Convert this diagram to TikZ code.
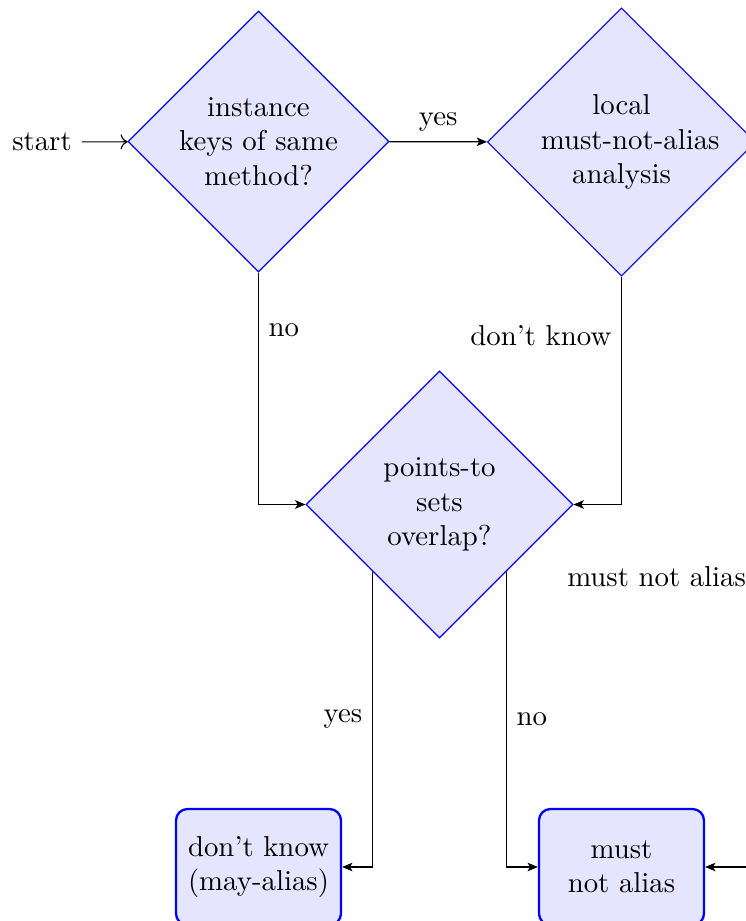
\documentclass[tikz,border=0pt]{standalone}
\usetikzlibrary{shapes.geometric,arrows.meta}
\begin{document}
\begin{tikzpicture}[x=0.3472pt,y=-0.3472pt,
  decision/.style={diamond, draw=blue, fill=blue!10, text width=56pt,
    align=center, inner sep=0pt, minimum width=#1, minimum height=#1},
  outcome/.style={rectangle, rounded corners=4pt, draw=blue, thick,
    fill=blue!10, align=center, minimum width=57.3pt, minimum height=40.3pt},
  flow/.style={-{Stealth[length=3.6pt,width=3pt,inset=0.9pt]}}]
  \useasboundingbox (0,0) rectangle (746,921);
  \clip (0,0) rectangle (746,921);

  % decisions
  \node[decision=90.6pt] (d1) at (258.5,141.5) {instance\\keys of same\\method?};
  \node[decision=93.1pt] (d2) at (621.5,142) {local\\\mbox{must-not-alias}\\analysis};
  \node[decision=92.7pt] (d3) at (439.5,504.5) {points-to\\sets\\overlap?};

  % outcomes
  \node[outcome] (b1) at (258.5,867) {don't know\\(may-alias)};
  \node[outcome] (b2) at (621.5,867) {must\\not alias};

  \node (start) at (42,142) {start};

  % connectors
  \draw[->] (start) -- (d1);
  \draw[flow] (d1) -- node[above] {yes} (d2);
  \draw[flow] (d1.south) |- node[pos=0.125, right] {no} (d3.west);
  \draw[flow] (d2.south) |- node[pos=0.13, left] {don't know} (d3.east);
  \draw[flow] (d3.south west) |- node[pos=0.25, left] {yes} (b1.east);
  \draw[flow] (d3.south east) |- node[pos=0.25, right] {no} (b2.west);
  \draw[flow] (d2.east) |- node[pos=0.3, left] {must not alias} (b2.east);
\end{tikzpicture}
\end{document}
